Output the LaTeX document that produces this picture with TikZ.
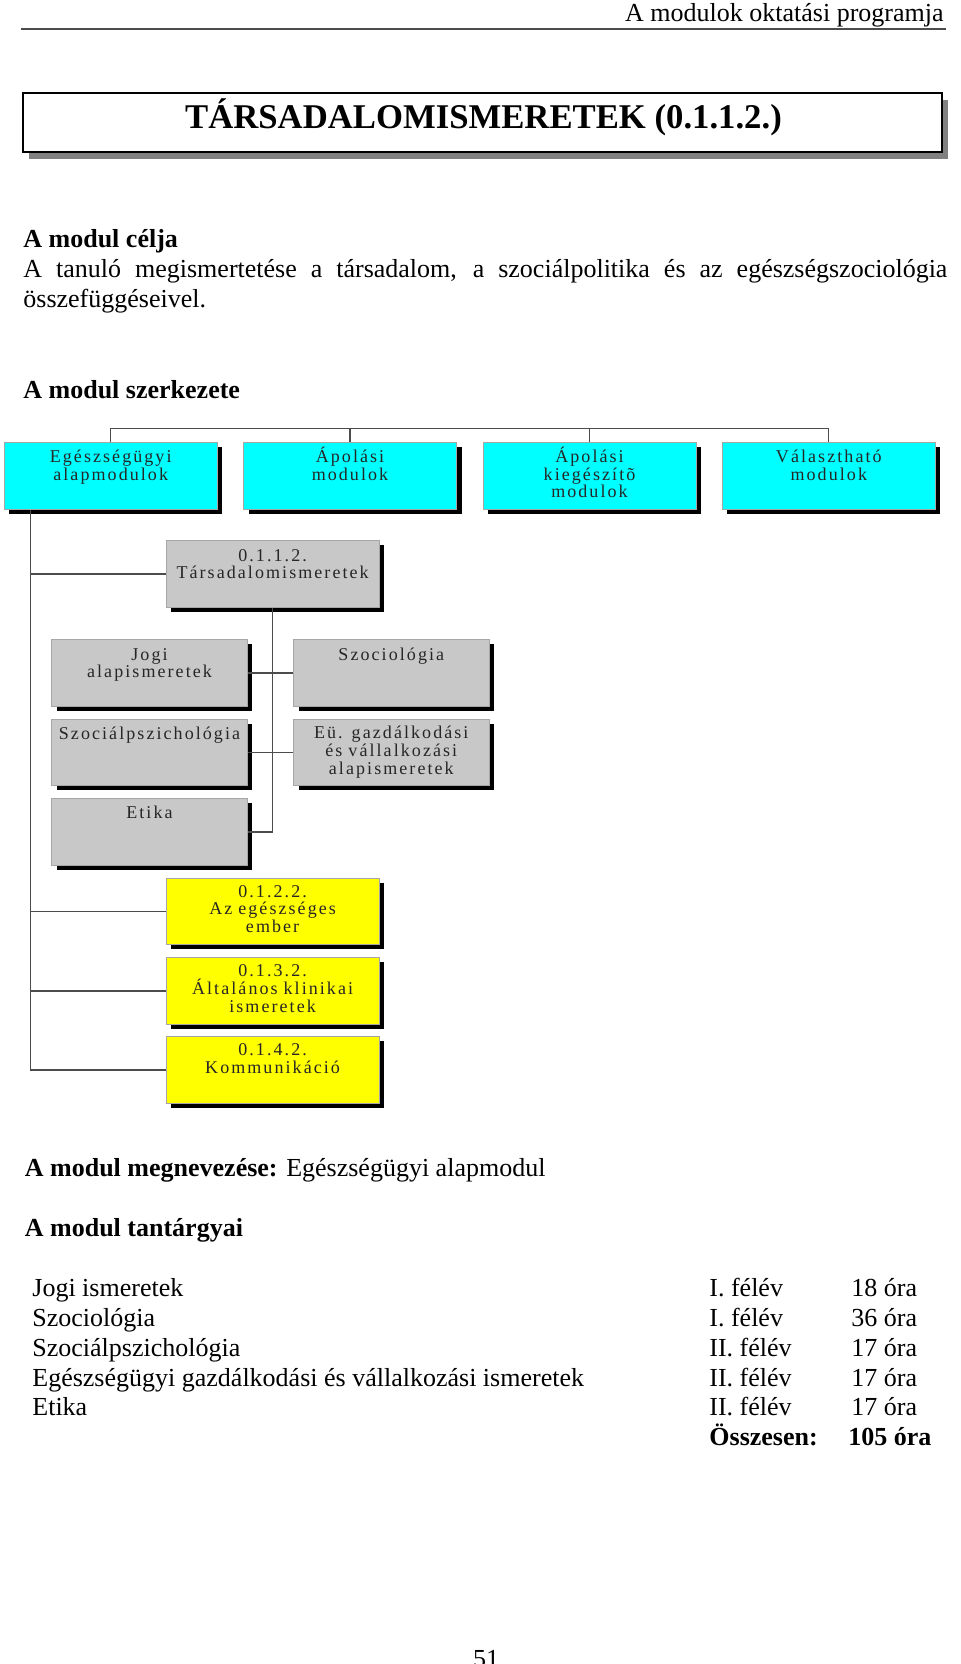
\documentclass[tikz,border=0pt]{standalone}
\usepackage{fontspec}
\setmainfont{Liberation Serif}
\newfontfamily\boxfont[LetterSpace=11.5]{Liberation Serif}
\usetikzlibrary{shadows}

\definecolor{modcyan}{RGB}{0,255,255}
\definecolor{modgray}{RGB}{200,200,200}
\definecolor{modyellow}{RGB}{255,255,0}
\newcommand{\bodyfont}{\fontsize{13}{14.8}\selectfont}
\newcommand{\smallboxfont}{\boxfont\fontsize{9}{8.9}\selectfont}

\tikzset{
  modbox/.style={rectangle, draw=black!35, line width=0.5pt, inner sep=0pt,
    minimum width=106.5pt, minimum height=33.3pt,
    drop shadow={shadow xshift=2.5pt, shadow yshift=-2.2pt, fill=black, opacity=1}},
  cyanbox/.style={modbox, fill=modcyan},
  graybox/.style={modbox, fill=modgray},
  subbox/.style={graybox, minimum width=97.8pt},
  yellowbox/.style={modbox, fill=modyellow},
  boxtxt/.style={anchor=base, inner sep=0pt, text width=105pt, align=center, font=\smallboxfont, text=black!85},
  txt/.style={anchor=base west, inner sep=0pt, font=\bodyfont},
  link/.style={draw=black!70, line width=0.6pt},
}

\begin{document}
\begin{tikzpicture}[x=0.5pt, y=-0.5pt]
\useasboundingbox (0,0) rectangle (960,1664);

% header
\node[txt, anchor=base east] (head) at (944,21.7) {A modulok oktatási programja};
\draw[black!70, line width=1.1pt] (21.4,29.3) -- (946,29.3);

% title
\node[rectangle, draw, line width=1pt, fill=white, inner sep=0pt, minimum width=459.5pt, minimum height=29.5pt,
  drop shadow={shadow xshift=3pt, shadow yshift=-3.5pt, fill=black!55, opacity=0.9}] (titlebox) at (482.5,122.5) {};
\node[anchor=base, inner sep=0pt, font=\fontsize{17.35}{20}\selectfont\bfseries] (title) at (483.5,128.3) {TÁRSADALOMISMERETEK (0.1.1.2.)};

\node[txt, font=\bodyfont\bfseries] (cel) at (23,248) {A modul célja};
\node[txt, text width=462pt, align=justify] (celtxt) at (23,278) {A tanuló megismertetése a társadalom, a szociálpolitika és az egészségszociológia\linebreak összefüggéseivel.};

\node[txt, font=\bodyfont\bfseries] (szerk) at (23,398) {A modul szerkezete};

% module row
\node[cyanbox] (alap) at (110.7,476) {};
\node[boxtxt] (alap-t) at (110.7,462.3) {Egészségügyi\\alapmodulok};
\node[cyanbox] (apol) at (350,476) {};
\node[boxtxt] (apol-t) at (350,462.3) {Ápolási\\modulok};
\node[cyanbox] (kieg) at (589.5,476) {};
\node[boxtxt] (kieg-t) at (589.5,462.3) {Ápolási\\kiegészítõ\\modulok};
\node[cyanbox] (valaszt) at (828.8,476) {};
\node[boxtxt] (valaszt-t) at (828.8,462.3) {Választható\\modulok};

% this module
\node[graybox] (tars) at (272.6,574) {};
\node[boxtxt] (tars-t) at (272.6,561) {0.1.1.2.\\Társadalomismeretek};

\node[subbox] (jogi) at (149.5,673) {};
\node[boxtxt] (jogi-t) at (149.5,660) {Jogi\\alapismeretek};
\node[subbox] (szoc) at (391.3,673) {};
\node[boxtxt] (szoc-t) at (391.3,660) {Szociológia};
\node[subbox] (szpsz) at (149.5,752.5) {};
\node[boxtxt] (szpsz-t) at (149.5,739) {Szociálpszichológia};
\node[subbox] (eu) at (391.3,752.5) {};
\node[boxtxt] (eu-t) at (391.3,738.5) {Eü. gazdálkodási\\és vállalkozási\\alapismeretek};
\node[subbox] (etika) at (149.5,832) {};
\node[boxtxt] (etika-t) at (149.5,818.7) {Etika};

% other modules
\node[yellowbox] (egesz) at (272.6,911.5) {};
\node[boxtxt] (egesz-t) at (272.6,897) {0.1.2.2.\\Az egészséges\\ember};
\node[yellowbox] (klin) at (272.6,991) {};
\node[boxtxt] (klin-t) at (272.6,976.7) {0.1.3.2.\\Általános klinikai\\ismeretek};
\node[yellowbox] (komm) at (272.6,1070) {};
\node[boxtxt] (komm-t) at (272.6,1055.7) {0.1.4.2.\\Kommunikáció};

% connectors
\coordinate (bus) at (0,428.3);
\coordinate (trunk) at (30.5,0);
\draw[link] (alap.north) -- (alap.north |- bus) -- (valaszt.north |- bus) -- (valaszt.north);
\draw[link] (apol.north) -- (apol.north |- bus);
\draw[link] (kieg.north) -- (kieg.north |- bus);
\draw[link] (alap.south -| trunk) -- (komm.west -| trunk) -- (komm.west);
\draw[link] (tars.west -| trunk) -- (tars.west);
\draw[link] (egesz.west -| trunk) -- (egesz.west);
\draw[link] (klin.west -| trunk) -- (klin.west);
\draw[link] (tars.south) -- (tars.south |- etika.east) -- (etika.east);
\draw[link] (jogi.east) -- (szoc.west);
\draw[link] (szpsz.east) -- (eu.west);

% subjects
\node[txt] (megnev) at (24.5,1176.7) {\textbf{A modul megnevezése:} Egészségügyi alapmodul};
\node[txt, font=\bodyfont\bfseries] (tant) at (24.5,1236.7) {A modul tantárgyai};

\node[txt] (s1) at (32,1296.7) {Jogi ismeretek};
\node[txt] (s1f) at (709,1296.7) {I. félév};
\node[txt] (s1o) at (851,1296.7) {18 óra};
\node[txt] (s2) at (32,1326.5) {Szociológia};
\node[txt] (s2f) at (709,1326.5) {I. félév};
\node[txt] (s2o) at (851,1326.5) {36 óra};
\node[txt] (s3) at (32,1356.3) {Szociálpszichológia};
\node[txt] (s3f) at (709,1356.3) {II. félév};
\node[txt] (s3o) at (851,1356.3) {17 óra};
\node[txt] (s4) at (32,1386) {Egészségügyi gazdálkodási és vállalkozási ismeretek};
\node[txt] (s4f) at (709,1386) {II. félév};
\node[txt] (s4o) at (851,1386) {17 óra};
\node[txt] (s5) at (32,1415.8) {Etika};
\node[txt] (s5f) at (709,1415.8) {II. félév};
\node[txt] (s5o) at (851,1415.8) {17 óra};
\node[txt, font=\bodyfont\bfseries] (ossz) at (709,1445.6) {Összesen:};
\node[txt, font=\bodyfont\bfseries] (osszo) at (848,1445.6) {105 óra};

\node[anchor=base, inner sep=0pt, font=\bodyfont] (pnum) at (486,1667) {51};
\end{tikzpicture}
\end{document}
